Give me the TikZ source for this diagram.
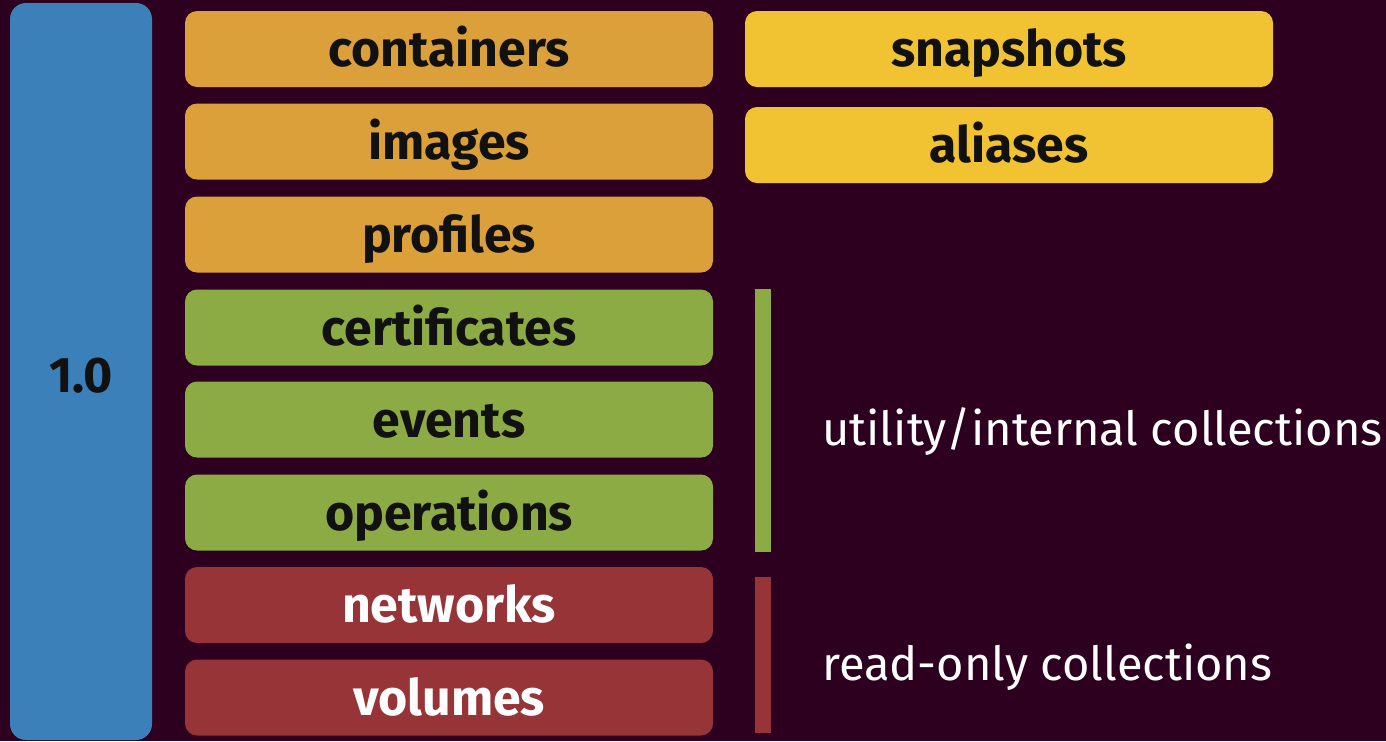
\documentclass[tikz,border=0pt]{standalone}
\usepackage{fontspec}
\setmainfont{Fira Sans}
\definecolor{bg}{HTML}{2C001E}
\definecolor{cblue}{HTML}{3C80BA}
\definecolor{corange}{HTML}{DBA03A}
\definecolor{cyellow}{HTML}{F1C232}
\definecolor{cgreen}{HTML}{8CAB45}
\definecolor{cred}{HTML}{973437}
\definecolor{ctext}{HTML}{111111}
\begin{document}
\begin{tikzpicture}[x=0.5pt,y=-0.5pt,
  labelfont/.style={font=\fontsize{25}{30}\selectfont\bfseries, text=ctext},
  box/.style={labelfont, rounded corners=6pt, inner sep=0pt, minimum width=264pt, minimum height=38pt,
    text height=19.5pt, text depth=2pt},
  orangebox/.style={box, fill=corange},
  yellowbox/.style={box, fill=cyellow},
  greenbox/.style={box, fill=cgreen},
  redbox/.style={box, fill=cred, text=white},
  sidetext/.style={anchor=west, inner sep=0pt, text=white, font=\fontsize{23.5}{28}\selectfont}
]
\fill[bg] (0,0) rectangle (1386,741);
\useasboundingbox (0,0) rectangle (1386,741);
\node[rounded corners=8pt, inner sep=0pt, fill=cblue, minimum width=71pt, minimum height=368.5pt] (ver) at (81,371.5) {};
\node[labelfont, inner sep=0pt] (vlabel) at (81,376) {1.0};
\node[orangebox] (containers) at (449,49) {containers};
\node[orangebox] (images) at (449,141.5) {images};
\node[orangebox] (profiles) at (449,234.5) {profiles};
\node[greenbox] (certificates) at (449,327.5) {certificates};
\node[greenbox] (events) at (449,419.5) {events};
\node[greenbox] (operations) at (449,512.5) {operations};
\node[redbox] (networks) at (449,605) {networks};
\node[redbox] (volumes) at (449,697.5) {volumes};
\node[yellowbox] (snapshots) at (1009,49) {snapshots};
\node[yellowbox] (aliases) at (1009,145) {aliases};
\fill[cgreen] (755,289) rectangle (771,552);
\fill[cred] (755,577) rectangle (771,733);
\node[sidetext] (utility) at (822,432) {utility/internal collections};
\node[sidetext] (readonly) at (822,667) {read-only collections};
\end{tikzpicture}
\end{document}
